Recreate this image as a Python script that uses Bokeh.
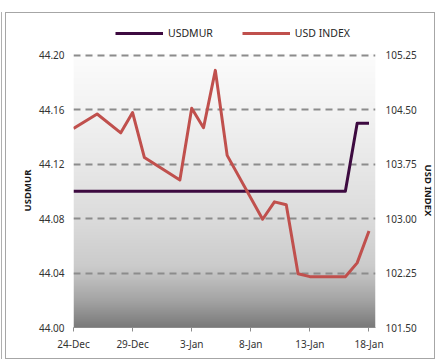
import numpy as np
import pandas as pd
from bokeh.plotting import figure
from bokeh.layouts import column, row
from bokeh.core.properties import value
from bokeh.models import (Range1d, LinearAxis, FixedTicker, Legend, LegendItem,
                          NumeralTickFormatter)
from bokeh.embed import file_html
from bokeh.resources import INLINE

# ---- data ----
dates = ["2022-12-24", "2022-12-26", "2022-12-28", "2022-12-29", "2022-12-30",
         "2023-01-02", "2023-01-03", "2023-01-04", "2023-01-05", "2023-01-06",
         "2023-01-09", "2023-01-10", "2023-01-11", "2023-01-12", "2023-01-13",
         "2023-01-16", "2023-01-17", "2023-01-18"]
usdmur = [44.10, 44.10, 44.10, 44.10, 44.10, 44.10, 44.10, 44.10, 44.10,
          44.10, 44.10, 44.10, 44.10, 44.10, 44.10, 44.10, 44.15, 44.15]
usd_index = [104.24, 104.44, 104.18, 104.46, 103.84, 103.53, 104.52, 104.25,
             105.04, 103.87, 102.99, 103.23, 103.19, 102.24, 102.20, 102.20,
             102.39, 102.83]
tick_dates = ["2022-12-24", "2022-12-29", "2023-01-03", "2023-01-08",
              "2023-01-13", "2023-01-18"]
tick_labels = ["24-Dec", "29-Dec", "3-Jan", "8-Jan", "13-Jan", "18-Jan"]
left_ticks = [44.00, 44.04, 44.08, 44.12, 44.16, 44.20]
right_ticks = [101.50, 102.25, 103.00, 103.75, 104.50, 105.25]
series_names = ["USDMUR", "USD INDEX"]
series_colors = ["#3d0a40", "#c0504d"]

base = pd.Timestamp(dates[0])
x = [(pd.Timestamp(d) - base).days for d in dates]
xt = [(pd.Timestamp(d) - base).days for d in tick_dates]

FONT = "Noto Sans"
BL, BR_MAIN, BT, BB = 67, 47, 12, 31   # borders of the main plot
TW = 12                                 # width of the right-title strip
W = 428

# small headroom so the top dashed grid line is not clipped by the frame
pad_frac = 0.006
lspan = left_ticks[-1] - left_ticks[0]
rspan = right_ticks[-1] - right_ticks[0]

p = figure(width=W - TW, height=317, output_backend="svg", toolbar_location=None,
           x_range=Range1d(0, 25.55),
           y_range=Range1d(left_ticks[0], left_ticks[-1] + lspan * pad_frac),
           min_border_left=BL, min_border_right=BR_MAIN, min_border_top=BT,
           min_border_bottom=BB)
p.extra_y_ranges = {"idx": Range1d(right_ticks[0],
                                   right_ticks[-1] + rspan * pad_frac)}
p.outline_line_color = None
p.background_fill_color = "white"
p.border_fill_color = "white"

# gradient plot-area background
N = 274
t = np.linspace(1.0, 0.0, N)  # row 0 = bottom -> t=1 (bottom)
stops_t = [0.0, 0.2, 0.4, 0.6, 0.78, 0.9, 1.0]
stops_v = [252, 243, 232, 220, 203, 165, 122]
g = np.interp(t, stops_t, stops_v).astype(np.uint8)
img = np.empty((N, 1), dtype=np.uint32)
view = img.view(dtype=np.uint8).reshape((N, 1, 4))
view[:, 0, 0] = g
view[:, 0, 1] = g
view[:, 0, 2] = g
view[:, 0, 3] = 255
p.image_rgba(image=[img], x=p.x_range.start, y=p.y_range.start,
             dw=p.x_range.end - p.x_range.start,
             dh=p.y_range.end - p.y_range.start, level="image")

# grid
p.xgrid.visible = False
p.ygrid.ticker = FixedTicker(ticks=left_ticks)
p.ygrid.grid_line_color = "#8c8c8c"
p.ygrid.grid_line_width = 2
p.ygrid.grid_line_dash = "7 5"

# lines
r1 = p.line(x, usdmur, color=series_colors[0], line_width=3, line_join="round")
r2 = p.line(x, usd_index, color=series_colors[1], line_width=3,
            line_join="round", y_range_name="idx")

# axes
def style_axis(ax):
    ax.major_label_text_font = FONT
    ax.major_label_text_font_size = "10px"
    ax.major_label_text_color = "#333333"
    ax.axis_label_text_font = FONT
    ax.axis_label_text_font_size = "9.5px"
    ax.axis_label_text_font_style = "bold"
    ax.axis_label_text_color = "#1a1a1a"
    ax.minor_tick_line_color = None
    ax.minor_tick_in = 0
    ax.minor_tick_out = 0

ya = p.yaxis[0]
ya.ticker = FixedTicker(ticks=left_ticks)
ya.formatter = NumeralTickFormatter(format="0.00")
ya.axis_line_color = None
ya.major_tick_line_color = None
ya.major_tick_out = 0
ya.major_tick_in = 0
ya.major_label_standoff = 9
ya.axis_label = series_names[0]
ya.axis_label_standoff = 2
style_axis(ya)

ra = LinearAxis(y_range_name="idx", ticker=FixedTicker(ticks=right_ticks),
                formatter=NumeralTickFormatter(format="0.00"))
ra.axis_line_color = None
ra.major_tick_line_color = None
ra.major_tick_out = 0
ra.major_tick_in = 0
ra.major_label_standoff = 10
style_axis(ra)
p.add_layout(ra, "right")

xa = p.xaxis[0]
xa.ticker = FixedTicker(ticks=xt)
xa.major_label_overrides = {xt[i]: tick_labels[i] for i in range(len(xt))}
xa.axis_line_color = "#8c8c8c"
xa.major_tick_line_color = "#8c8c8c"
xa.major_tick_out = 4
xa.major_tick_in = 0
xa.major_label_standoff = 5
style_axis(xa)

# right axis title strip (vertical text reading top to bottom)
tf = figure(width=TW, height=317, output_backend="svg", toolbar_location=None,
            x_range=Range1d(0, 1), y_range=Range1d(0, 1),
            x_axis_location=None, y_axis_location=None,
            min_border_left=0, min_border_right=0, min_border_top=BT,
            min_border_bottom=BB)
tf.outline_line_color = None
tf.xgrid.visible = False
tf.ygrid.visible = False
tf.border_fill_color = "white"
tf.background_fill_color = "white"
tf.text(x=[0.5], y=[0.5], text=[series_names[1]], angle=-np.pi / 2,
        text_align="center", text_baseline="middle",
        text_font=value(FONT), text_font_size="9.5px",
        text_font_style="bold", text_color="#1a1a1a")

# legend strip above the plot (its own small figure, legend inside its frame)
lf = figure(width=W, height=28, output_backend="svg", toolbar_location=None,
            x_range=Range1d(0, 1), y_range=Range1d(0, 1),
            x_axis_location=None, y_axis_location=None,
            min_border_left=BL, min_border_right=BR_MAIN + TW, min_border_top=0,
            min_border_bottom=0)
lf.outline_line_color = None
lf.xgrid.visible = False
lf.ygrid.visible = False
lf.background_fill_color = "white"
lf.border_fill_color = "white"
d1 = lf.line(x, usdmur, color=series_colors[0], line_width=3, visible=False)
d2 = lf.line(x, usd_index, color=series_colors[1], line_width=3, visible=False)
legend = Legend(items=[LegendItem(label=series_names[0], renderers=[d1]),
                       LegendItem(label=series_names[1], renderers=[d2])],
                orientation="horizontal", location=(42, 1),
                glyph_width=48, glyph_height=14, label_height=14,
                label_standoff=5, spacing=29, padding=0, margin=0,
                border_line_color=None, background_fill_alpha=0,
                label_text_font=FONT, label_text_font_size="10.5px",
                label_text_color="#262626")
lf.add_layout(legend)

layout = column(lf, row(p, tf, spacing=0), spacing=0)
layout.styles = {"margin-left": "5px", "margin-top": "12px",
                 "border": "1px solid #a6a6a6",
                 "box-shadow": "-3px 0 0 0 white, -4px 0 0 0 #b0b0b0"}

open("out.html", "w").write(file_html(layout, INLINE))
